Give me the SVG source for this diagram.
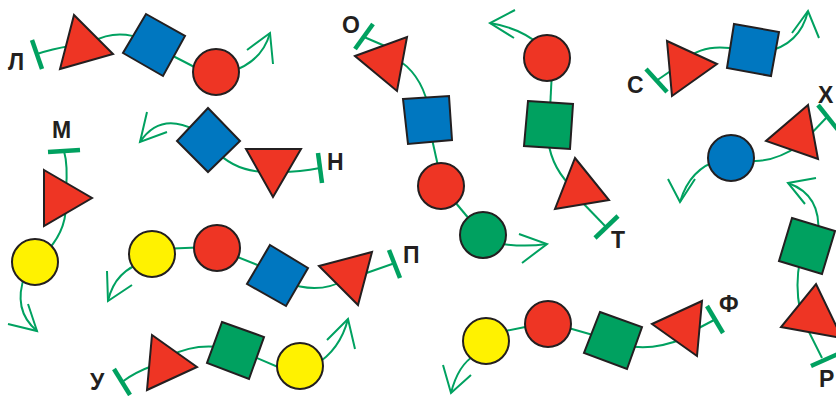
<svg xmlns="http://www.w3.org/2000/svg" width="836" height="396" viewBox="0 0 836 396">
<style>
.c{fill:none;stroke:#00A160;stroke-width:2}
.bar{fill:none;stroke:#00A160;stroke-width:4.5}
.s{stroke:#231F20;stroke-width:2;stroke-linejoin:miter}
.r{fill:#EE3524}.b{fill:#0077C0}.g{fill:#00A160}.y{fill:#FFF200}
.t{font-family:"Liberation Sans",Arial,sans-serif;font-weight:bold;font-size:23px;fill:#231F20}
</style>
<rect width="836" height="396" fill="#fff"/>
<g id="connectors">
<!-- Л -->
<path class="c" d="M37,54 Q52,49 70,46"/><path class="c" d="M92,42 Q117,28 145,40"/><path class="c" d="M165,52 Q185,62 200,70"/><path class="c" d="M230,72 Q262,62 270,33"/><path class="c" d="M247,50 L270,33 L273,64"/><path class="bar" d="M32,40 L42,69"/>
<!-- М -->
<path class="c" d="M64,151 Q68,165 66,190"/><path class="c" d="M66,205 Q66,235 40,258"/><path class="c" d="M25,275 Q12,310 37,331"/><path class="c" d="M8,324 L37,331 L28,304"/><path class="bar" d="M48,152 L80,150"/>
<!-- Н -->
<path class="c" d="M215,150 Q235,172 268,172"/><path class="c" d="M280,172 Q300,172 320,168"/><path class="c" d="M195,130 Q160,112 140,142"/><path class="c" d="M147,112 L140,142 L167,132"/><path class="bar" d="M318,153 L322,183"/>
<!-- П -->
<path class="c" d="M160,249 L210,247"/><path class="c" d="M225,252 L270,270"/><path class="c" d="M285,282 Q318,295 345,280"/><path class="c" d="M355,277 L395,263"/><path class="c" d="M145,262 Q115,270 108,301"/><path class="c" d="M107,271 L108,301 L132,285"/><path class="bar" d="M389,250 L400,278"/>
<!-- У -->
<path class="c" d="M122,382 Q135,372 155,365"/><path class="c" d="M170,356 Q195,343 225,348"/><path class="c" d="M250,355 L285,370"/><path class="c" d="M315,365 Q340,350 348,319"/><path class="c" d="M327,340 L348,319 L355,349"/><path class="bar" d="M114,369 L130,395"/>
<!-- О -->
<path class="c" d="M364,37 L385,46"/><path class="c" d="M395,58 Q420,72 428,105"/><path class="c" d="M430,130 L440,175"/><path class="c" d="M445,190 L480,232"/><path class="c" d="M490,242 Q520,248 547,244"/><path class="c" d="M519,234 L547,244 L522,263"/><path class="bar" d="M355,49 L373,24"/>
<!-- Т -->
<path class="c" d="M540,45 Q520,28 490,23"/><path class="c" d="M515,10 L490,23 L514,38"/><path class="c" d="M552,70 L550,110"/><path class="c" d="M548,140 Q552,170 575,190"/><path class="c" d="M580,200 L606,227"/><path class="bar" d="M595,238 L618,216"/>
<!-- С -->
<path class="c" d="M656,81 L675,68"/><path class="c" d="M685,60 Q705,42 740,50"/><path class="c" d="M765,52 Q800,45 808,11"/><path class="c" d="M792,33 L808,11 L819,38"/><path class="bar" d="M646,69 L667,92"/>
<!-- Х -->
<path class="c" d="M805,140 L828,116"/><path class="c" d="M745,160 Q770,165 800,145"/><path class="c" d="M720,160 Q690,168 680,202"/><path class="c" d="M668,179 L680,202 L695,179"/><path class="bar" d="M818,105 L838,130"/>
<!-- Р -->
<path class="c" d="M818,235 Q822,195 788,183"/><path class="c" d="M816,178 L788,183 L805,204"/><path class="c" d="M800,260 Q795,285 800,310"/><path class="c" d="M808,330 L822,358"/><path class="bar" d="M811,366 L838,354"/>
<!-- Ф -->
<path class="c" d="M500,332 L535,325"/><path class="c" d="M565,327 L600,337"/><path class="c" d="M625,345 Q650,352 685,338"/><path class="c" d="M695,330 L716,319"/><path class="c" d="M475,355 Q458,365 451,393"/><path class="c" d="M443,365 L451,393 L471,375"/><path class="bar" d="M707,306 L723,333"/>
</g>
<g id="l-tri"><polygon class="s r" points="74,15 113,54 60,69"/></g>
<g id="l-sq"><polygon class="s b" points="146,14 185,36 163,76 123,53"/></g>
<g id="l-circ"><circle class="s r" cx="216" cy="72" r="23"/></g>
<g id="m-tri"><polygon class="s r" points="44,170 92,198 44,226"/></g>
<g id="m-circ"><circle class="s y" cx="35" cy="262" r="23"/></g>
<g id="n-dia"><polygon class="s b" points="208,108 240,141 208,172 177,141"/></g>
<g id="n-tri"><polygon class="s r" points="246,149 301,149 273,197"/></g>
<g id="p-circ1"><circle class="s y" cx="152" cy="254" r="23"/></g>
<g id="p-circ2"><circle class="s r" cx="217" cy="248" r="23"/></g>
<g id="p-sq"><polygon class="s b" points="270,245 308,268 286,306 247,284"/></g>
<g id="p-tri"><polygon class="s r" points="319,266 372,252 358,305"/></g>
<g id="u-tri"><polygon class="s r" points="152,335 197,367 147,390"/></g>
<g id="u-sq"><polygon class="s g" points="222,322 264,337 249,379 207,363"/></g>
<g id="u-circ"><circle class="s y" cx="300" cy="366" r="23"/></g>
<g id="o-tri"><polygon class="s r" points="355,56 407,37 397,91"/></g>
<g id="o-sq"><polygon class="s b" points="403,99 449,96 452,140 408,144"/></g>
<g id="o-circ1"><circle class="s r" cx="441" cy="186" r="23"/></g>
<g id="o-circ2"><circle class="s g" cx="483" cy="235" r="23"/></g>
<g id="t-circ"><circle class="s r" cx="547" cy="58" r="23"/></g>
<g id="t-sq"><polygon class="s g" points="528,101 573,104 570,149 524,146"/></g>
<g id="t-tri"><polygon class="s r" points="575,158 609,200 555,209"/></g>
<g id="s-tri"><polygon class="s r" points="667,41 717,64 672,96"/></g>
<g id="s-sq"><polygon class="s b" points="734,24 779,32 771,76 727,68"/></g>
<g id="h-tri"><polygon class="s r" points="808,105 766,141 818,159"/></g>
<g id="h-circ"><circle class="s b" cx="731" cy="158" r="23"/></g>
<g id="r-sq"><polygon class="s g" points="792,218 835,231 822,274 779,261"/></g>
<g id="r-tri"><polygon class="s r" points="816,284 842,338 781,327"/></g>
<g id="f-circ1"><circle class="s y" cx="486" cy="341" r="23"/></g>
<g id="f-circ2"><circle class="s r" cx="548" cy="324" r="23"/></g>
<g id="f-sq"><polygon class="s g" points="600,312 642,327 627,369 584,353"/></g>
<g id="f-tri"><polygon class="s r" points="652,324 702,301 697,356"/></g>
<g id="labels">
<text class="t" x="8" y="70">Л</text>
<text class="t" x="52" y="138">М</text>
<text class="t" x="327" y="170">Н</text>
<text class="t" x="403" y="263">П</text>
<text class="t" x="90" y="390">У</text>
<text class="t" x="342" y="33">О</text>
<text class="t" x="611" y="248">Т</text>
<text class="t" x="627" y="93">С</text>
<text class="t" x="818" y="103">Х</text>
<text class="t" x="819" y="387">Р</text>
<text class="t" x="719" y="312">Ф</text>
</g>
</svg>
